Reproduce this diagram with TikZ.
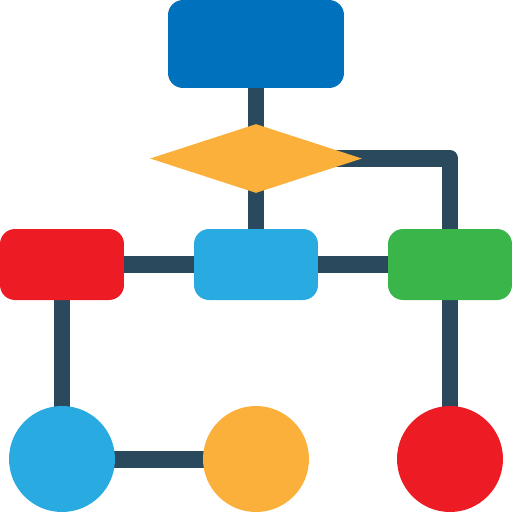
\documentclass[tikz,border=0pt]{standalone}
\usepackage{tikz}
\usetikzlibrary{shapes.geometric,backgrounds}

\definecolor{LinkCol}{RGB}{42,73,92}
\definecolor{DeepBlue}{RGB}{0,113,188}
\definecolor{SkyBlue}{RGB}{41,171,226}
\definecolor{Amber}{RGB}{251,176,59}
\definecolor{Crimson}{RGB}{237,28,36}
\definecolor{Leaf}{RGB}{57,181,74}

\begin{document}
\begin{tikzpicture}[
        x=0.02cm,y=-0.02cm,
        BoxCfg/.style={
            rectangle,
            rounded corners=0.3cm,
            minimum width=2.48cm,
            minimum height=1.42cm,
            inner sep=0pt
        },
        DotCfg/.style={
            circle,
            minimum size=2.12cm,
            inner sep=0pt
        },
        LinkCfg/.style={
            draw=LinkCol,
            line width=0.34cm,
            line join=round
        }
    ]
    \useasboundingbox (0,0) rectangle (512,512);
    
    %start box and decision
    \node[BoxCfg,fill=DeepBlue,minimum width=3.52cm,minimum height=1.76cm] (Start) at (256,44) {};
    \node[diamond,fill=Amber,minimum width=4.24cm,minimum height=1.38cm,inner sep=0pt] (Decide) at (256,158.5) {};
    
    %process boxes
    \node[BoxCfg,fill=Crimson] (Left) at (62,264.5) {};
    \node[BoxCfg,fill=SkyBlue] (Mid) at (256,264.5) {};
    \node[BoxCfg,fill=Leaf] (Right) at (450,264.5) {};
    
    %end points
    \node[DotCfg,fill=SkyBlue] (EndA) at (62,459) {};
    \node[DotCfg,fill=Amber] (EndB) at (256,459) {};
    \node[DotCfg,fill=Crimson] (EndC) at (450,459) {};
    
    %connections
    \begin{scope}[on background layer]
        \draw[LinkCfg] (Start.center)--(Decide.center)--(Mid.center);
        \draw[LinkCfg] (Decide.center)-|(Right.center);
        \draw[LinkCfg] (Left.center)--(Mid.center)--(Right.center);
        \draw[LinkCfg] (Left.center)--(EndA.center)--(EndB.center);
        \draw[LinkCfg] (Right.center)--(EndC.center);
    \end{scope}
    
\end{tikzpicture}
\end{document}
